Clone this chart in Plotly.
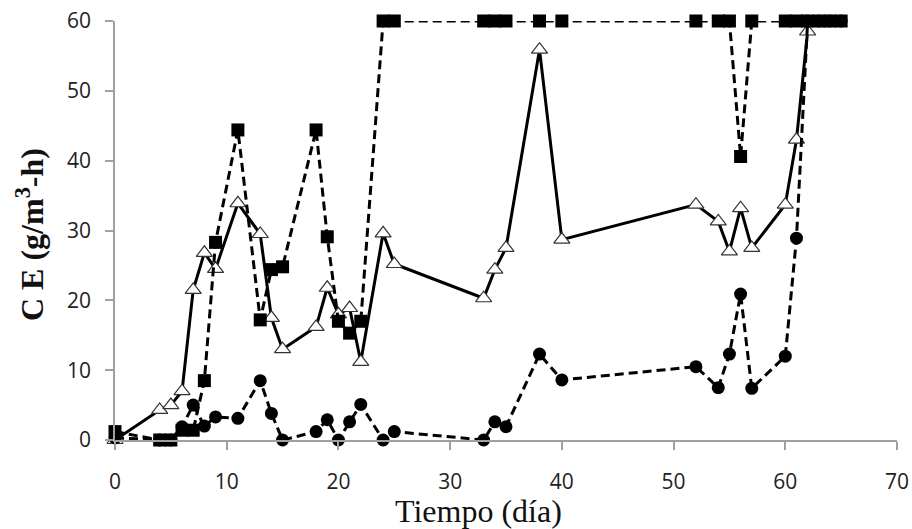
import plotly.graph_objects as go

# Series 1: filled squares, dashed line
sq_x = [0, 4, 5, 6, 7, 8, 9, 11, 13, 14, 15, 18, 19, 20, 21, 22, 24, 25, 33, 34, 35, 38, 40,
        52, 54, 55, 56, 57, 60, 61, 62, 63, 64, 65]
sq_y = [1.2, 0, 0, 1.4, 1.4, 8.5, 28.3, 44.4, 17.2, 24.4, 24.8, 44.4, 29.1, 17.0, 15.3, 17.0, 60, 60,
        60, 60, 60, 60, 60, 60, 60, 60, 40.6, 60, 60, 60, 60, 60, 60, 60]

# Series 2: open triangles, solid line
tr_x = [0, 4, 5, 6, 7, 8, 9, 11, 13, 14, 15, 18, 19, 20, 21, 22, 24, 25, 33, 34, 35, 38, 40,
        52, 54, 55, 56, 57, 60, 61, 62]
tr_y = [0, 4.3, 5.0, 7.0, 21.5, 26.8, 24.5, 33.9, 29.5, 17.5, 13.0, 16.2, 21.8, 18.0, 18.9, 11.2,
        29.6, 25.2, 20.3, 24.4, 27.5, 55.9, 28.7, 33.7, 31.3, 27.0, 33.2, 27.5, 33.7, 43.0, 58.5]

# Series 3: filled circles, dashed line
ci_x = [0, 4, 5, 6, 7, 8, 9, 11, 13, 14, 15, 18, 19, 20, 21, 22, 24, 25, 33, 34, 35, 38, 40,
        52, 54, 55, 56, 57, 60, 61, 62, 63, 64, 65]
ci_y = [0.3, 0, 0, 1.9, 5.0, 2.0, 3.3, 3.1, 8.5, 3.8, 0, 1.2, 2.9, 0, 2.6, 5.1, 0, 1.2, 0, 2.6, 1.9,
        12.3, 8.6, 10.5, 7.5, 12.3, 20.9, 7.4, 12.0, 28.9, 60, 60, 60, 60]

x_ticks = [0, 10, 20, 30, 40, 50, 60, 70]
y_ticks = [0, 10, 20, 30, 40, 50, 60]

x_title = "Tiempo (día)"
y_title = "<b>C E (g/m<sup>3</sup>-h)</b>"

fig = go.Figure()

fig.add_trace(go.Scatter(
    x=tr_x, y=tr_y, mode="lines+markers", cliponaxis=False,
    line=dict(color="black", width=3),
    marker=dict(symbol="triangle-up", size=14, color="white",
                line=dict(color="#333333", width=1.2)),
))
fig.add_trace(go.Scatter(
    x=sq_x, y=sq_y, mode="lines+markers", cliponaxis=False,
    line=dict(color="black", width=3, dash="9px,5px"),
    marker=dict(symbol="square", size=13, color="black"),
))
fig.add_trace(go.Scatter(
    x=ci_x, y=ci_y, mode="lines+markers", cliponaxis=False,
    line=dict(color="black", width=3, dash="9px,5px"),
    marker=dict(symbol="circle", size=13, color="black"),
))

L, R, T, B = 115, 15, 21, 89
W, H = 912, 529
pw, ph = W - L - R, H - T - B

fig.update_layout(
    width=W, height=H,
    margin=dict(l=L, r=R, t=T, b=B),
    paper_bgcolor="white", plot_bgcolor="white",
    showlegend=False,
    font=dict(family="Open Sans", size=16, color="#222222"),
    annotations=[
        dict(text=x_title, xref="paper", yref="paper",
             x=(478 - L) / pw, y=(H - B - 511) / ph, xanchor="center", yanchor="middle",
             showarrow=False, font=dict(family="Liberation Serif", size=32, color="#111111")),
        dict(text=y_title, xref="paper", yref="paper", textangle=-90,
             x=(30 - L) / pw, y=(H - B - 235) / ph, xanchor="center", yanchor="middle",
             showarrow=False, font=dict(family="Liberation Serif", size=32, color="#111111")),
    ],
)
fig.update_xaxes(
    range=[0, 70], tickvals=x_ticks, showgrid=False, zeroline=False, automargin=False,
    showline=True, linecolor="#a0a0a0", linewidth=1.5,
    ticks="outside", ticklen=8, tickcolor="#a0a0a0", tickwidth=1.5,
    ticklabelstandoff=14,
    tickfont=dict(family="Open Sans", size=21, color="#222222"),
)
fig.update_yaxes(
    range=[0, 60], tickvals=y_ticks, showgrid=False, zeroline=False, automargin=False,
    showline=True, linecolor="#a0a0a0", linewidth=1.5,
    ticks="outside", ticklen=8, tickcolor="#a0a0a0", tickwidth=1.5,
    ticklabelstandoff=10,
    tickfont=dict(family="Open Sans", size=21, color="#222222"),
)

fig.write_html("out.html", config={"displayModeBar": False},
               post_script="document.body.style.margin='0';document.body.style.overflow='hidden';")
